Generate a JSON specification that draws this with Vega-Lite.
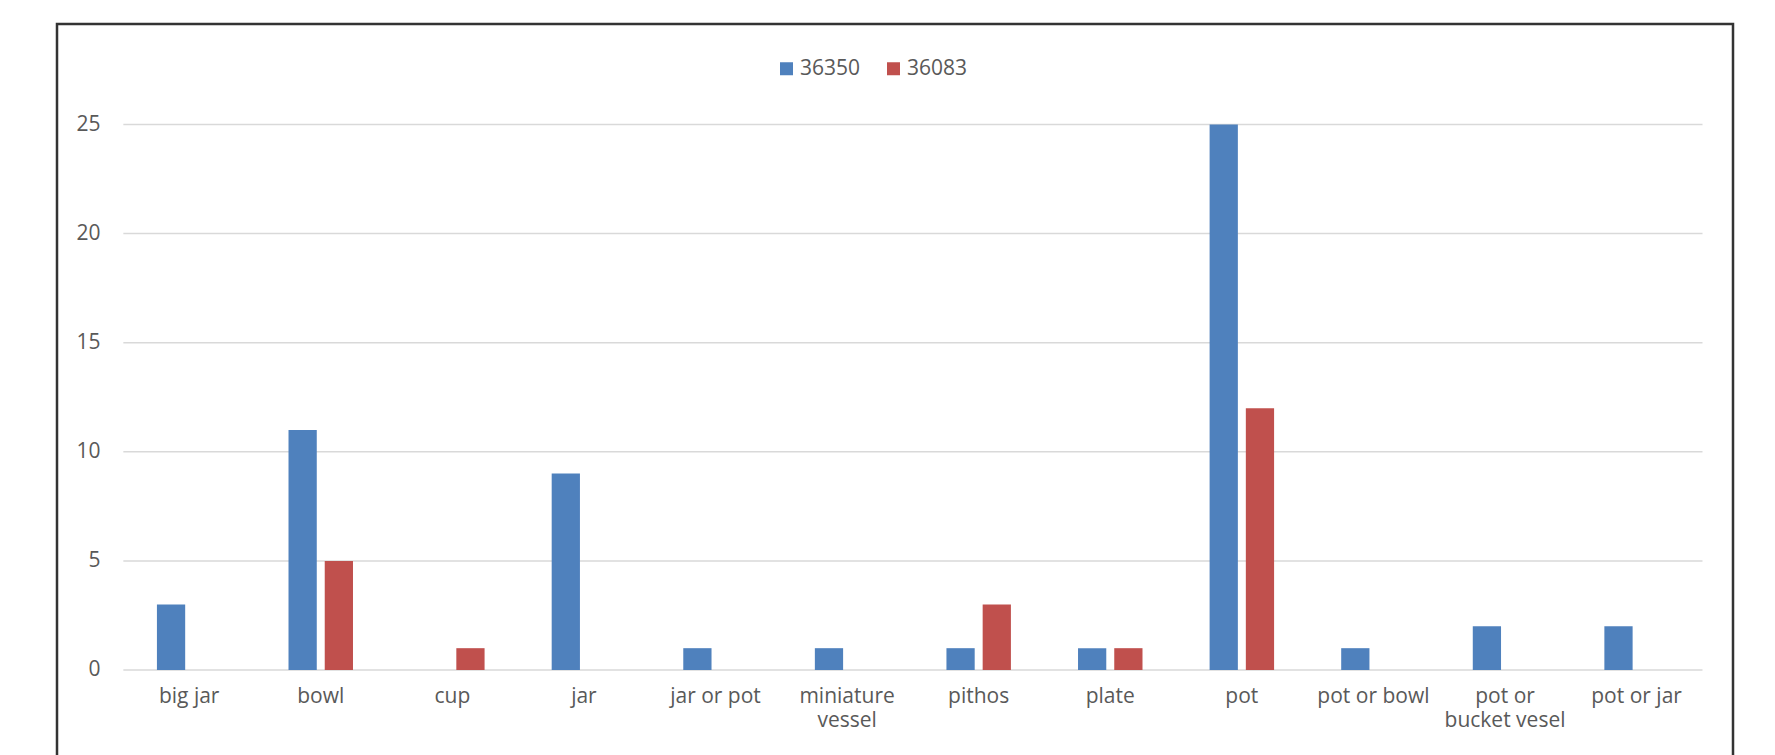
{
  "$schema": "https://vega.github.io/schema/vega-lite/v6.json",
  "width": 1676,
  "height": 740,
  "autosize": {"type": "none"},
  "padding": {"left": 57, "top": 24, "right": 42, "bottom": 0},
  "background": "white",
  "config": {
    "view": {"stroke": "#333333", "strokeWidth": 2.5},
    "font": "Open Sans",
    "axis": {"labelFont": "Open Sans", "labelColor": "#595959"},
    "legend": {"labelFont": "Open Sans", "labelColor": "#595959"}
  },
  "datasets": {
    "counts": [
      {"type": "big jar", "series": "36350", "count": 3},
      {"type": "bowl", "series": "36350", "count": 11},
      {"type": "bowl", "series": "36083", "count": 5},
      {"type": "cup", "series": "36083", "count": 1},
      {"type": "jar", "series": "36350", "count": 9},
      {"type": "jar or pot", "series": "36350", "count": 1},
      {"type": "miniature vessel", "series": "36350", "count": 1},
      {"type": "pithos", "series": "36350", "count": 1},
      {"type": "pithos", "series": "36083", "count": 3},
      {"type": "plate", "series": "36350", "count": 1},
      {"type": "plate", "series": "36083", "count": 1},
      {"type": "pot", "series": "36350", "count": 25},
      {"type": "pot", "series": "36083", "count": 12},
      {"type": "pot or bowl", "series": "36350", "count": 1},
      {"type": "pot or bucket vesel", "series": "36350", "count": 2},
      {"type": "pot or jar", "series": "36350", "count": 2}
    ],
    "grid": [
      {"v": 0, "first": "big jar", "last": "pot or jar"},
      {"v": 5, "first": "big jar", "last": "pot or jar"},
      {"v": 10, "first": "big jar", "last": "pot or jar"},
      {"v": 15, "first": "big jar", "last": "pot or jar"},
      {"v": 20, "first": "big jar", "last": "pot or jar"},
      {"v": 25, "first": "big jar", "last": "pot or jar"}
    ]
  },
  "layer": [
    {
      "data": {"name": "grid"},
      "mark": {"type": "rule", "color": "#d9d9d9", "strokeWidth": 1.5},
      "encoding": {
        "x": {
          "field": "first",
          "type": "nominal",
          "bandPosition": -0.521,
          "axis": {
            "title": null,
            "orient": "bottom",
            "domain": false,
            "ticks": false,
            "tickSize": 0,
            "labelAngle": 0,
            "labelAlign": "center",
            "bandPosition": 0.5,
            "labelFontSize": 21,
            "labelBaseline": "alphabetic",
            "labelPadding": -62,
            "labelLineHeight": 24.5,
            "labelExpr": "datum.label == 'miniature vessel' ? ['miniature', 'vessel'] : datum.label == 'pot or bucket vesel' ? ['pot or', 'bucket vesel'] : datum.label"
          }
        },
        "x2": {"field": "last", "bandPosition": 1.522},
        "y": {
          "field": "v",
          "type": "quantitative",
          "axis": {
            "title": null,
            "grid": false,
            "domain": false,
            "ticks": false,
            "tickSize": 0,
            "values": [0, 5, 10, 15, 20, 25],
            "labelFontSize": 21,
            "labelAlign": "right",
            "labelBaseline": "middle",
            "labelPadding": -43
          }
        }
      }
    },
    {
      "data": {"name": "counts"},
      "mark": {"type": "bar"},
      "encoding": {
        "x": {
          "field": "type",
          "type": "nominal",
          "scale": {
            "domain": ["big jar", "bowl", "cup", "jar", "jar or pot", "miniature vessel", "pithos", "plate", "pot", "pot or bowl", "pot or bucket vesel", "pot or jar"],
            "paddingInner": 0.51,
            "paddingOuter": 0.6235,
            "align": 0.609
          },
          "axis": {
            "title": null,
            "orient": "bottom",
            "domain": false,
            "ticks": false,
            "tickSize": 0,
            "labelAngle": 0,
            "labelAlign": "center",
            "bandPosition": 0.5,
            "labelFontSize": 21,
            "labelBaseline": "alphabetic",
            "labelPadding": -62,
            "labelLineHeight": 24.5,
            "labelExpr": "datum.label == 'miniature vessel' ? ['miniature', 'vessel'] : datum.label == 'pot or bucket vesel' ? ['pot or', 'bucket vesel'] : datum.label"
          }
        },
        "xOffset": {
          "field": "series",
          "type": "nominal",
          "scale": {"domain": ["36350", "36083"], "paddingInner": 0.22, "paddingOuter": 0}
        },
        "y": {
          "field": "count",
          "type": "quantitative",
          "scale": {"domain": [-4.308, 29.606], "nice": false, "zero": false},
          "axis": {
            "title": null,
            "grid": false,
            "domain": false,
            "ticks": false,
            "tickSize": 0,
            "values": [0, 5, 10, 15, 20, 25],
            "labelFontSize": 21,
            "labelAlign": "right",
            "labelBaseline": "middle",
            "labelPadding": -43
          }
        },
        "color": {
          "field": "series",
          "type": "nominal",
          "scale": {"domain": ["36350", "36083"], "range": ["#4F81BD", "#C0504D"]},
          "legend": {
            "title": null,
            "orient": "none",
            "direction": "horizontal",
            "legendX": 719,
            "legendY": 34,
            "padding": 0,
            "symbolType": "square",
            "symbolSize": 169,
            "symbolStrokeWidth": 0,
            "symbolOpacity": 1,
            "labelFontSize": 21,
            "labelOffset": 3,
            "columnPadding": 22
          }
        }
      }
    }
  ]
}
